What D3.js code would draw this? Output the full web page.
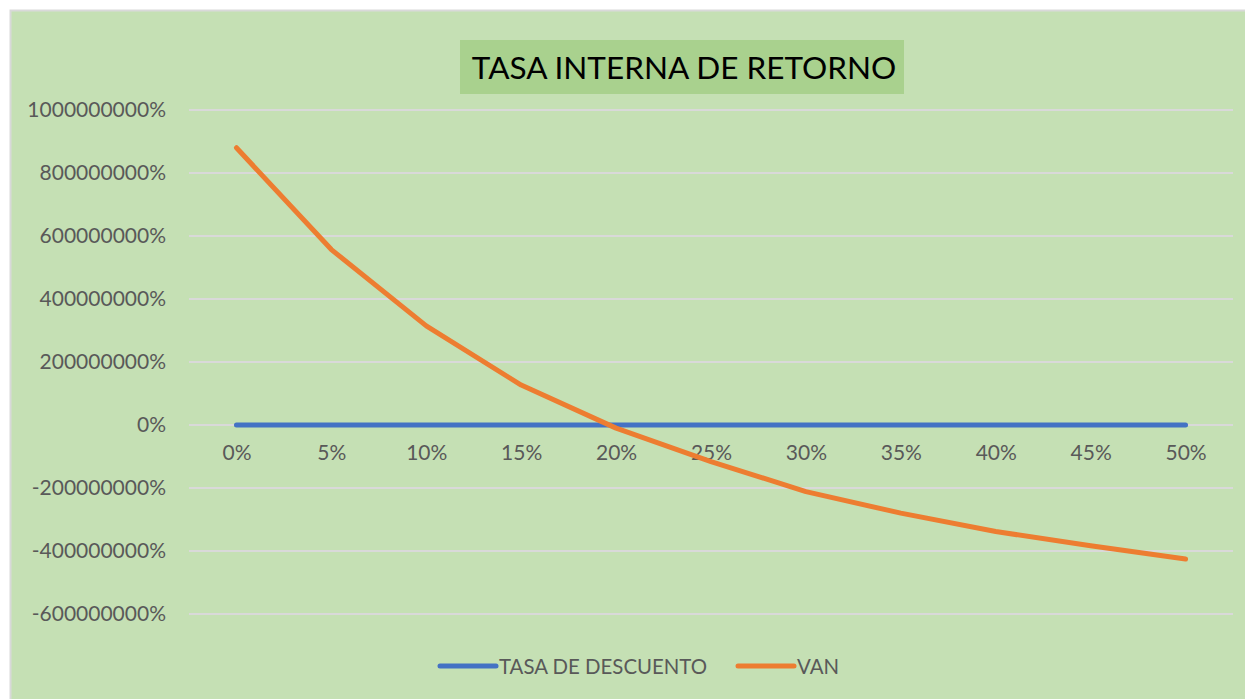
<!DOCTYPE html>
<html>
<head>
<meta charset="utf-8">
<script src="https://cdn.jsdelivr.net/npm/d3@7"></script>
<style>
  body { margin: 0; background: #fff; }
  text { font-family: Lato, "Open Sans", sans-serif; }
</style>
</head>
<body>
<div id="chart"></div>
<script>
// categories on the x axis (tasa de descuento)
const categories = ["0%", "5%", "10%", "15%", "20%", "25%", "30%", "35%", "40%", "45%", "50%"]
// values as shown on the axis (percent units)
const tasaValues = [0, 5, 10, 15, 20, 25, 30, 35, 40, 45, 50]
const vanValues = [880200000, 556900000, 314700000, 126800000, -10000000, -116300000,
    -211400000, -279900000, -338200000, -383500000, -425700000]
const yTicks = [1000000000, 800000000, 600000000, 400000000, 200000000, 0,
    -200000000, -400000000, -600000000]
const seriesNames = ["TASA DE DESCUENTO", "VAN"]
const seriesColors = ["#4472c4", "#ed7d31"]

const W = 1245, H = 699

let svg = d3.select("#chart").append("svg")
    .attr("width", W)
    .attr("height", H)

// chart area
svg.append("rect")
    .attr("x", 10.5).attr("y", 10.5)
    .attr("width", W).attr("height", H)
    .attr("fill", "#c5e0b4")
    .attr("stroke", "#d9d9d9")
    .attr("stroke-width", 2)

// title box
svg.append("rect")
    .attr("x", 460).attr("y", 40)
    .attr("width", 444).attr("height", 54)
    .attr("fill", "#a9d18e")
svg.append("text")
    .attr("x", 684).attr("y", 67)
    .attr("text-anchor", "middle")
    .attr("dominant-baseline", "central")
    .attr("font-size", 31.5)
    .attr("fill", "#000")
    .text("TASA INTERNA DE RETORNO")

let x = d3.scalePoint().domain(categories).range([189, 1233]).padding(0.5)
let y = d3.scaleLinear().domain([-600000000, 1000000000]).range([614, 110])

//gridlines
svg.append("g").selectAll("line").data(yTicks).enter().append("line")
    .attr("x1", 189).attr("x2", 1233)
    .attr("y1", d => y(d)).attr("y2", d => y(d))
    .attr("stroke", "#d9d9d9")
    .attr("stroke-width", 2)

// y axis labels
let yAxis = d3.axisLeft(y).tickValues(yTicks).tickSize(0).tickPadding(0)
    .tickFormat(d => String(d) + "%")
let gy = svg.append("g").attr("transform", "translate(166,0)").call(yAxis)
gy.select(".domain").remove()
gy.selectAll("text")
    .attr("font-size", 21)
    .attr("fill", "#595959")
    .style("font-family", "Lato, sans-serif")

// x axis labels, next to the zero line
let xAxis = d3.axisBottom(x).tickSize(0).tickPadding(0)
let gx = svg.append("g").attr("transform", `translate(0,${y(0) + 20})`).call(xAxis)
gx.select(".domain").remove()
gx.selectAll("text")
    .attr("font-size", 21)
    .attr("fill", "#595959")
    .style("font-family", "Lato, sans-serif")

let line = d3.line()
    .x((d, i) => x(categories[i]))
    .y(d => y(d))

let allSeries = [tasaValues, vanValues]
svg.append("g").selectAll("path").data(allSeries).enter().append("path")
    .attr("d", line)
    .attr("fill", "none")
    .attr("stroke", (d, i) => seriesColors[i])
    .attr("stroke-width", 5)
    .attr("stroke-linecap", "round")
    .attr("stroke-linejoin", "round")

// legend
let legendX = [440, 738]
let lg = svg.append("g").selectAll("g").data(seriesNames).enter().append("g")
    .attr("transform", (d, i) => `translate(${legendX[i]},666)`)
lg.append("line")
    .attr("x1", 0).attr("x2", 56)
    .attr("stroke", (d, i) => seriesColors[i])
    .attr("stroke-width", 5)
    .attr("stroke-linecap", "round")
lg.append("text")
    .attr("x", 59)
    .attr("dominant-baseline", "central")
    .attr("font-size", 20.4)
    .attr("fill", "#595959")
    .text(d => d)
</script>
</body>
</html>
